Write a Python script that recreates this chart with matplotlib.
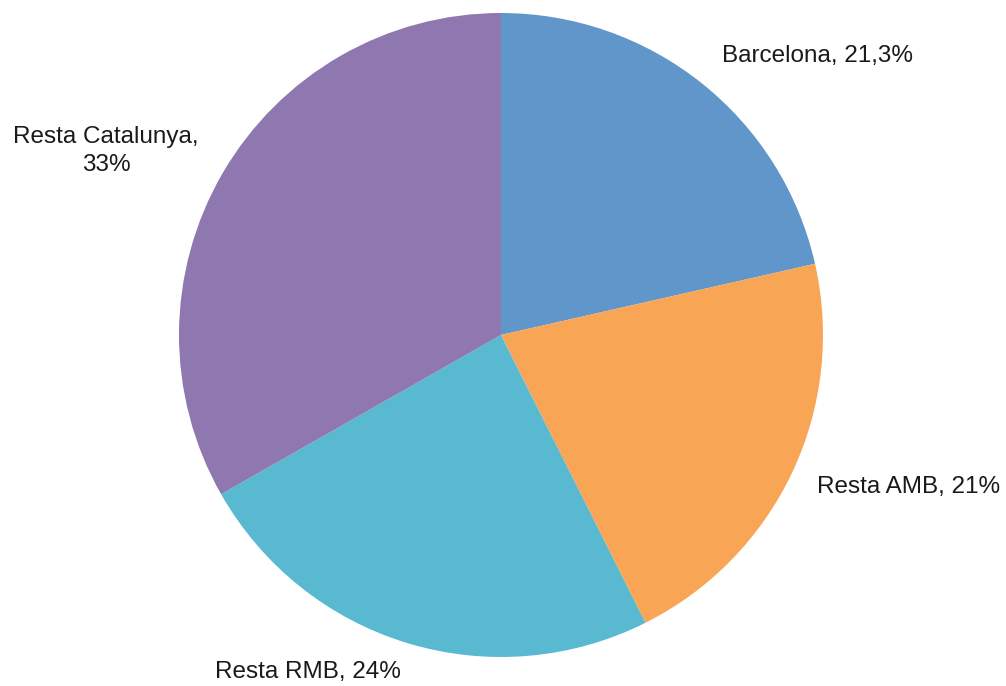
import matplotlib.pyplot as plt

labels = ["Barcelona", "Resta AMB", "Resta RMB", "Resta Catalunya"]
values = [21.3, 21, 24, 33]
label_texts = ["Barcelona, 21,3%", "Resta AMB, 21%", "Resta RMB, 24%", "Resta Catalunya,\n33%"]
colors = ["#6096C9", "#F8A656", "#59B9D1", "#8F78AF"]

plt.rcParams['font.family'] = ['Liberation Sans', 'DejaVu Sans']

W, H = 1006, 686
fig = plt.figure(figsize=(W / 100, H / 100), dpi=100)
# axes in pixel units so the layout can be placed from the reference
ax = fig.add_axes([0, 0, 1, 1])

ax.pie(values, colors=colors, startangle=90, counterclock=False,
       center=(501, H - 335), radius=322, frame=True,
       wedgeprops=dict(linewidth=0))
ax.set_xlim(0, W)
ax.set_ylim(0, H)
ax.set_aspect('equal')
ax.axis('off')

# label positions (x, y from top, alignment)
pos = [(722, 56, 'left'), (817, 487, 'left'), (215, 672, 'left'), (106, 151, 'center')]
for txt, (x, y, ha) in zip(label_texts, pos):
    ax.text(x, H - y, txt, ha=ha, va='center', fontsize=17.5,
            color='#1a1a1a', multialignment='center', linespacing=1.3)

fig.savefig("out.png", dpi=100)
